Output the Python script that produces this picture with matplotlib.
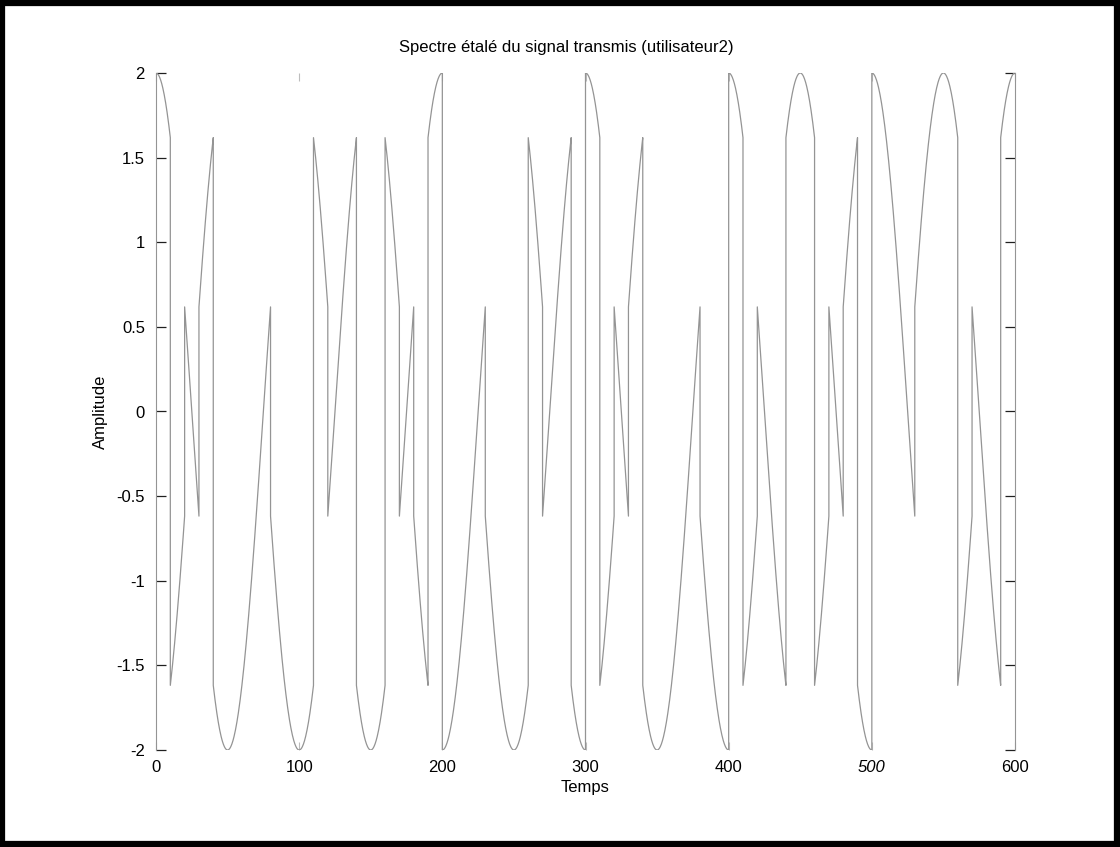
import numpy as np
import matplotlib
matplotlib.use("Agg")
import matplotlib.pyplot as plt
from matplotlib.patches import Rectangle

# ---- data ----
# chip signs (one per 10-unit chip, t = 0..600)
chips = [ 1, -1,  1, -1,  1,  1,  1,  1, -1, -1,
         -1,  1, -1, -1,  1,  1, -1,  1, -1,  1,
         -1, -1, -1,  1,  1,  1, -1,  1,  1, -1,
          1, -1,  1, -1,  1,  1,  1,  1, -1, -1,
          1, -1,  1,  1, -1, -1,  1, -1,  1, -1,
          1,  1,  1, -1, -1, -1,  1, -1, -1,  1]
chip_len = 10          # duration of one chip
carrier_amp = 2.0      # carrier amplitude
carrier_period = 100   # carrier period
samples_per_chip = 41

xticks = [0, 100, 200, 300, 400, 500, 600]
yticks = [-2, -1.5, -1, -0.5, 0, 0.5, 1, 1.5, 2]
title = "Spectre étalé du signal transmis (utilisateur2)"
xlabel = "Temps"
ylabel = "Amplitude"

plt.rcParams['font.family'] = ['Liberation Sans', 'DejaVu Sans']

W, H = 1120, 847
fig = plt.figure(figsize=(W / 100, H / 100), dpi=100)
ax = fig.add_axes([156 / W, 1 - 750 / H, (1015 - 156) / W, (750 - 73) / H])

ts, ys = [], []
for k, c in enumerate(chips):
    t = np.linspace(k * chip_len, (k + 1) * chip_len, samples_per_chip)
    ts.append(t)
    ys.append(c * carrier_amp * np.cos(2 * np.pi * t / carrier_period))
t_all = np.concatenate(ts)
y_all = np.concatenate(ys)
ax.plot(t_all, y_all, color='#949494', lw=0.9)

ax.set_xlim(0, 600)
ax.set_ylim(-2, 2)
ax.set_xticks(xticks)
ax.set_yticks(yticks)
ax.set_xticklabels([str(v) for v in xticks])
ax.set_yticklabels([f"{v:g}" for v in yticks])
for lab in ax.get_xticklabels():
    if lab.get_text() == "500":
        lab.set_style('italic')
ax.tick_params(axis='x', direction='in', length=6, width=0.8, labelsize=12,
               top=True, pad=7, color='#bdbdbd', labelcolor='black')
ax.tick_params(axis='y', direction='in', length=7, width=0.9, labelsize=12,
               right=True, pad=8, color='#202020', labelcolor='black')
for s in ax.spines.values():
    s.set_color('#949494')
    s.set_linewidth(0.8)
ax.spines['top'].set_visible(False)
ax.spines['bottom'].set_visible(False)

ax.set_title(title, fontsize=12, x=0.478, pad=15)
ax.set_xlabel(xlabel, fontsize=12, labelpad=4)
ax.set_ylabel(ylabel, fontsize=12, labelpad=6)

# thick black frame around the figure
fig.patches.append(Rectangle((0.002, 0.003), 0.995, 0.994, transform=fig.transFigure,
                             fill=False, edgecolor='black', linewidth=4.5))

fig.savefig("out.png", dpi=100)
